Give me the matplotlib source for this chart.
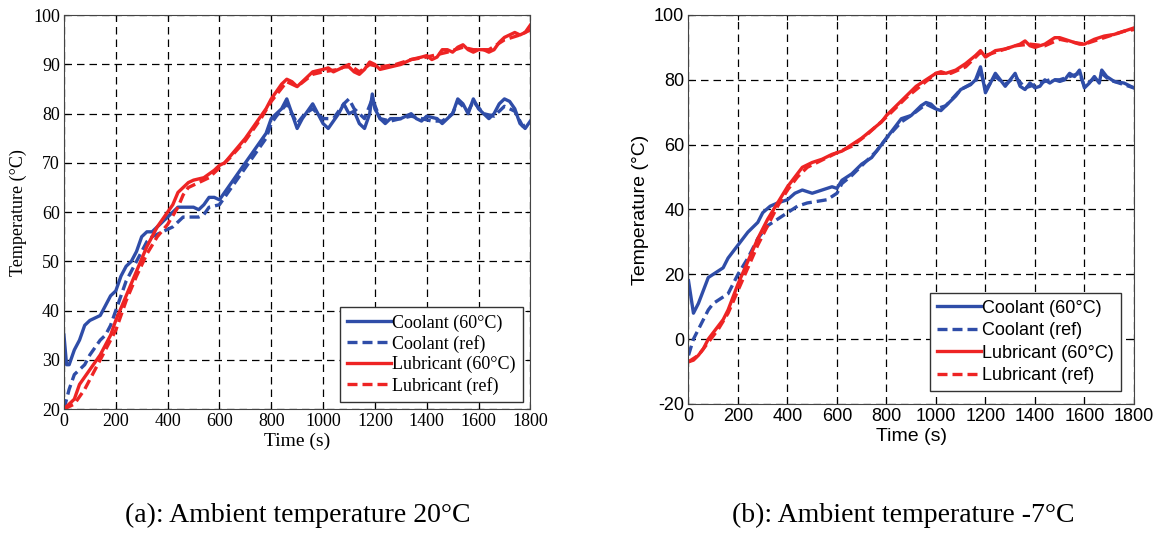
import numpy as np
import matplotlib
matplotlib.use("Agg")
import matplotlib.pyplot as plt

plt.rcParams['axes.unicode_minus'] = False

# ---- (a) ambient 20C ----
a_cool_t = [0, 10, 20, 40, 60, 80, 100, 140, 160, 180, 200, 220, 240, 260, 280, 300, 320, 340, 360, 380,
            400, 420, 440, 460, 500, 520, 540, 560, 580, 600, 620, 660, 700, 740, 780, 800, 820, 840, 860, 880,
            900, 920, 940, 960, 980, 1000, 1020, 1040, 1060, 1080, 1100, 1120, 1140, 1160, 1180, 1190, 1200,
            1220, 1240, 1260, 1300, 1340, 1360, 1380, 1400, 1440, 1460, 1480, 1500, 1520, 1540, 1560, 1580,
            1600, 1620, 1640, 1660, 1680, 1700, 1720, 1740, 1760, 1780, 1800]
a_cool_y = [35, 29, 29, 32, 34, 37, 38, 39, 41, 43, 44, 47, 49, 50, 52, 55, 56, 56, 57, 58,
            59, 60, 61, 61, 61, 60.5, 61.5, 63, 63, 62.5, 64, 67, 70, 73, 76, 79, 80, 81, 83, 80,
            77, 79, 80.5, 82, 80, 78, 77, 78.5, 80, 82, 80, 80.5, 78, 77, 80, 84, 81,
            79, 78, 79, 79, 80, 79, 78.5, 79.5, 79, 78, 79, 80, 83, 82, 80, 83,
            81, 80, 79, 80, 82, 83, 82.5, 81, 78, 77, 78.5]

a_cref_t = [0, 20, 40, 80, 100, 140, 160, 180, 200, 220, 240, 260, 280, 300, 320, 340, 360, 380, 400, 420,
            440, 460, 500, 520, 540, 560, 600, 620, 660, 700, 740, 780, 800, 820, 860, 900, 930, 960, 1000,
            1040, 1080, 1100, 1120, 1160, 1190, 1220, 1260, 1300, 1340, 1380, 1420, 1460, 1500, 1520, 1560,
            1580, 1620, 1660, 1700, 1740, 1770, 1800]
a_cref_y = [20, 24, 27, 29, 31, 34, 35, 37, 40, 43, 46, 48, 50, 52, 54, 55, 55.5, 56, 56.5, 57,
            58, 59, 59, 59, 59.5, 61, 61.5, 63, 66, 69, 72, 75, 78, 79.5, 82, 78, 80, 81, 79,
            79, 82, 83, 81, 79, 83, 79, 78.5, 79, 79.5, 79, 78.5, 78.5, 80, 82.5, 80.5,
            82.5, 80, 79.5, 81.5, 80.5, 77.5, 78]

a_lub_t = [0, 20, 40, 60, 100, 140, 180, 200, 240, 280, 320, 360, 400, 420, 440, 460, 480, 500, 540, 580,
           600, 620, 660, 700, 740, 780, 800, 820, 840, 860, 880, 900, 920, 940, 960, 1000, 1020, 1040, 1060,
           1080, 1100, 1120, 1140, 1160, 1180, 1200, 1220, 1260, 1300, 1340, 1380, 1400, 1420, 1440, 1460,
           1480, 1500, 1520, 1540, 1560, 1580, 1600, 1620, 1640, 1660, 1680, 1700, 1720, 1740, 1760, 1780, 1800]
a_lub_y = [20, 21, 22, 25, 28, 31, 35, 38, 43, 48, 53, 57, 60, 61.5, 64, 65, 66, 66.5, 67, 68.5,
           69.5, 70, 72.5, 75, 78, 81, 83, 84.5, 86, 87, 86.5, 85.5, 86.5, 87.5, 88.5, 89, 89.3, 88.5, 89,
           89.5, 89.5, 88.5, 88, 89, 90.5, 90, 89, 89.5, 90, 91, 91.5, 91.8, 91, 91.5, 93,
           93, 92.5, 93.5, 94, 93, 92.5, 93, 93, 92.5, 93, 94.5, 95.5, 96, 96.5, 96, 96.5, 98]

a_lref_t = [0, 40, 80, 120, 160, 200, 240, 280, 320, 360, 400, 440, 460, 480, 520, 560, 600, 640, 700,
            760, 800, 860, 900, 960, 1000, 1060, 1100, 1140, 1180, 1220, 1280, 1340, 1400, 1440, 1480,
            1540, 1580, 1640, 1700, 1760, 1800]
a_lref_y = [20, 21, 24, 28, 32, 36, 42, 47, 51.5, 55, 57.5, 61, 63.5, 65, 66, 67, 69, 71, 74.5,
            79, 82.5, 86.5, 85.5, 88, 88.5, 89, 90, 88.5, 90, 89.5, 90, 91, 91.5, 92, 92.5,
            93.5, 93, 93, 95, 96, 97]

# ---- (b) ambient -7C ----
b_cool_t = [0, 20, 40, 60, 80, 100, 140, 160, 180, 200, 240, 280, 300, 330, 360, 400, 430, 460, 500, 540,
            580, 600, 620, 660, 700, 740, 780, 800, 840, 860, 900, 940, 960, 980, 1000, 1020, 1040, 1080,
            1100, 1140, 1160, 1180, 1190, 1200, 1220, 1240, 1260, 1280, 1300, 1320, 1340, 1360, 1380, 1400,
            1420, 1440, 1460, 1480, 1500, 1520, 1540, 1560, 1580, 1600, 1620, 1640, 1660, 1670, 1690, 1720,
            1760, 1800]
b_cool_y = [18, 8, 11, 15, 19, 20, 22, 25, 27, 29, 33, 36, 39, 41, 42, 43, 45, 46, 45, 46,
            47, 46.5, 49, 51, 54, 56, 60, 62, 66, 68, 69, 72, 73, 72.5, 71, 70.5, 72, 75,
            77, 78.5, 80, 84, 80, 76, 79, 82, 80, 78, 80, 82, 78, 77, 79, 77.5,
            78, 80, 79, 80, 79.5, 80, 82, 81, 83, 77.5, 79, 81, 79, 83, 81, 79.5,
            79, 77.5]

b_cref_t = [0, 20, 40, 60, 80, 100, 140, 160, 200, 240, 280, 320, 360, 400, 440, 480, 520, 560, 600, 620,
            660, 700, 760, 800, 860, 900, 960, 1000, 1040, 1100, 1160, 1180, 1200, 1240, 1280, 1320, 1360,
            1400, 1460, 1500, 1540, 1580, 1600, 1640, 1670, 1700, 1760, 1800]
b_cref_y = [-5, 0, 3, 6, 9, 11, 13, 14, 20, 25, 31, 35, 37, 39, 41, 42, 42.5, 43, 45, 48,
            50.5, 53.5, 58, 62, 67, 69, 72.5, 71, 72, 77, 79.5, 83, 77, 81, 78.5, 81, 77.5,
            78.5, 80, 80, 81, 82, 78, 80.5, 82, 80, 78.5, 77.5]

b_lub_t = [0, 20, 40, 60, 80, 100, 140, 160, 180, 200, 240, 280, 320, 360, 400, 440, 460, 500, 540, 580,
           600, 620, 660, 700, 740, 780, 800, 840, 880, 920, 960, 1000, 1020, 1040, 1080, 1120, 1160, 1180,
           1200, 1220, 1240, 1280, 1300, 1340, 1360, 1380, 1400, 1440, 1480, 1500, 1540, 1580, 1600, 1640,
           1680, 1720, 1760, 1800]
b_lub_y = [-7, -6.5, -5, -3, 0, 2, 6, 9, 13, 17, 24, 31, 37, 42, 47, 51, 53, 54.5, 55.5, 57,
           57.5, 58, 60, 62, 64.5, 67, 69, 72, 75, 78, 80, 82, 82.5, 82, 83, 85, 87.5, 89,
           87, 88, 89, 89.5, 90, 91, 92, 90.5, 90, 91, 93, 93, 92, 91, 91, 92.5,
           93.5, 94, 95, 96]

b_lref_t = [0, 40, 80, 120, 160, 200, 240, 280, 320, 360, 400, 440, 480, 520, 560, 600, 660, 720, 800,
            880, 960, 1000, 1060, 1120, 1180, 1200, 1260, 1320, 1380, 1440, 1500, 1560, 1600, 1680, 1760, 1800]
b_lref_y = [-7, -5, -1, 3, 8, 15, 22, 29, 35, 41, 46, 50, 53, 54.5, 56, 57.5, 59.5, 63, 68.5,
            74.5, 79.5, 82, 82, 84, 88.5, 87.5, 89, 90.5, 91, 90.5, 92.5, 91.5, 91, 93, 95, 95.5]

blue = '#2F4DA8'
red = '#EE2424'

fig = plt.figure(figsize=(11.63, 5.35), dpi=100)
ax1 = fig.add_axes([0.055, 0.2355, 0.401, 0.736])
ax2 = fig.add_axes([0.592, 0.245, 0.383, 0.727])

def draw(ax, series, ylim, yticks, fam, tick_fs, lab_fs, leg_fs, ylab_fs, legpad, labsp, xpad):
    for t, y, c, ls, lab in series:
        ax.plot(t, y, color=c, linestyle=ls, linewidth=2.4, label=lab,
                dashes=(3, 1.5) if ls == '--' else (None, None))
    ax.set_xlim(0, 1800)
    ax.set_ylim(*ylim)
    ax.set_xticks(range(0, 1801, 200))
    ax.set_yticks(yticks)
    ax.grid(True, color='black', linestyle=(0, (6, 4)), linewidth=0.9)
    ax.tick_params(direction='in', top=True, right=True, labelsize=tick_fs, pad=3)
    for lbl in ax.get_xticklabels() + ax.get_yticklabels():
        lbl.set_family(fam)
    for sp in ax.spines.values():
        sp.set_color('#444444')
    ax.set_xlabel('Time (s)', family=fam, fontsize=lab_fs, labelpad=xpad)
    ax.set_ylabel('Temperature (°C)', family=fam, fontsize=ylab_fs, labelpad=4)
    leg = ax.legend(loc='lower right', prop={'family': fam, 'size': leg_fs}, fancybox=False,
                    edgecolor='#333333', framealpha=1, handlelength=2.4, labelspacing=labsp,
                    borderaxespad=legpad, handletextpad=0.1, borderpad=0.4)
    leg.get_frame().set_linewidth(1.0)

draw(ax1, [(a_cool_t, a_cool_y, blue, '-', 'Coolant (60°C)'),
           (a_cref_t, a_cref_y, blue, '--', 'Coolant (ref)'),
           (a_lub_t, a_lub_y, red, '-', 'Lubricant (60°C)'),
           (a_lref_t, a_lref_y, red, '--', 'Lubricant (ref)')],
     (20, 100), range(20, 101, 10), 'Liberation Serif', 13, 14, 13, 13, 0.4, 0.18, 2)

draw(ax2, [(b_cool_t, b_cool_y, blue, '-', 'Coolant (60°C)'),
           (b_cref_t, b_cref_y, blue, '--', 'Coolant (ref)'),
           (b_lub_t, b_lub_y, red, '-', 'Lubricant (60°C)'),
           (b_lref_t, b_lref_y, red, '--', 'Lubricant (ref)')],
     (-20, 100), range(-20, 101, 20), 'Liberation Sans', 13, 14, 13, 14, 0.7, 0.3, 2)

fig.text(0.256, 0.037, '(a): Ambient temperature 20°C', family='Liberation Serif', fontsize=20,
         ha='center', va='center')
fig.text(0.777, 0.037, '(b): Ambient temperature -7°C', family='Liberation Serif', fontsize=20,
         ha='center', va='center')

fig.savefig('out.png', dpi=100)
